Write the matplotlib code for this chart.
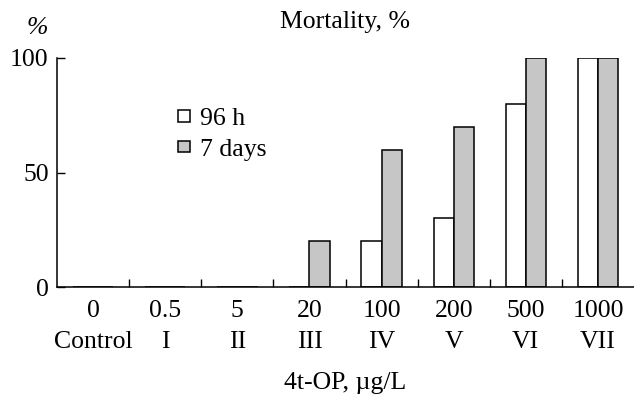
import matplotlib.pyplot as plt
import matplotlib.transforms as mtransforms
import numpy as np

conc = ['0', '0.5', '5', '20', '100', '200', '500', '1000']
groups = ['Control', 'I', 'II', 'III', 'IV', 'V', 'VI', 'VII']
h96 = [0, 0, 0, 0, 20, 30, 80, 100]
d7 = [0, 0, 0, 20, 60, 70, 100, 100]

plt.rcParams['font.family'] = ['Liberation Serif', 'DejaVu Serif']
fs = 18.5
plt.rcParams['font.size'] = fs

fig = plt.figure(figsize=(6.34, 3.95), dpi=100)
ax = fig.add_axes([0.09, 1 - 287 / 395, 0.91, 229 / 395])

x = np.arange(len(conc))
w = 0.28
ax.bar(x - w / 2, h96, w, color='white', edgecolor='black', linewidth=1.1, label='96 h')
ax.bar(x + w / 2, d7, w, color='#c6c6c6', edgecolor='black', linewidth=1.1, label='7 days')

ax.set_xlim(-0.5, 7.5)
ax.set_ylim(0, 100)
ax.set_yticks([0, 50, 100])
ax.set_xticks(np.arange(0.5, 7.5, 1))
ax.set_xticklabels([])
ax.tick_params(axis='both', direction='in', length=6, width=1.0, labelsize=fs)
ax.tick_params(axis='y', pad=6)
for s in ['top', 'right']:
    ax.spines[s].set_visible(False)
ax.spines['left'].set_linewidth(1.1)
ax.spines['bottom'].set_linewidth(1.1)

trans = mtransforms.blended_transform_factory(ax.transData, fig.transFigure)
for i in range(len(conc)):
    ax.text(x[i], 1 - 311 / 395, conc[i], transform=trans, ha='center', va='center')
    ax.text(x[i], 1 - 342 / 395, groups[i], transform=trans, ha='center', va='center')

fig.text(345 / 634, 1 - 22 / 395, 'Mortality, %', ha='center', va='center')
fig.text(37 / 634, 1 - 28 / 395, '%', ha='center', va='center', style='italic')
fig.text(345 / 634, 1 - 383 / 395, '4t-OP, µg/L', ha='center', va='center')

ax.legend(loc='upper left', bbox_to_anchor=(0.21, 0.78), frameon=False,
          handlelength=0.45, handleheight=0.32, handletextpad=0.4, labelspacing=0.33,
          fontsize=fs, borderaxespad=0, borderpad=0)

fig.savefig('out.png', dpi=100)
